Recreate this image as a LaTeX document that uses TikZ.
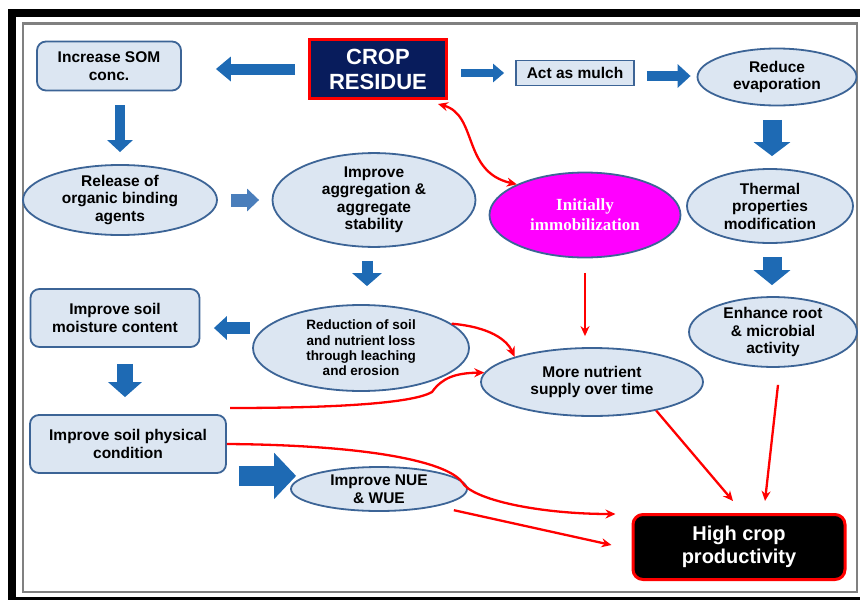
\documentclass[tikz,border=0pt]{standalone}
\usepackage{fontspec}
\setmainfont{Liberation Sans}
\newfontfamily\timesb{Liberation Serif}
\usetikzlibrary{shapes.geometric,arrows.meta}
\definecolor{boxfill}{RGB}{220,230,242}
\definecolor{boxline}{RGB}{60,100,150}
\definecolor{blockblue}{RGB}{30,106,180}
\definecolor{lightblock}{RGB}{74,126,187}
\definecolor{cropnavy}{RGB}{8,28,92}
\definecolor{immpink}{RGB}{255,0,255}
\begin{document}
\begin{tikzpicture}[x=1pt,y=-1pt,
  txt/.style={font=\fontsize{15.5}{17.5}\selectfont\bfseries, align=center},
  rbox/.style={txt, draw=boxline, fill=boxfill, line width=1.8pt, rounded corners=9pt, inner sep=0pt},
  oval/.style={txt, ellipse, draw=boxline, fill=boxfill, line width=1.8pt, inner sep=0pt},
  barrow/.style n args={4}{draw=#4, line width=#1, -{Triangle[width=#2,length=#3]}},
  rarrow/.style={red, line width=2.3pt, -{Stealth[length=10pt,width=9pt]}},
  rboth/.style={red, line width=2.3pt, {Stealth[length=10pt,width=9pt]}-{Stealth[length=10pt,width=9pt]}}]

\useasboundingbox (0,0) rectangle (860,600);
\draw [line width=8pt] (866,13) -- (12,13) -- (12,604);
\draw [line width=4pt] (12,599) -- (866,599);
\draw [gray, line width=2.2pt] (23,23.5) rectangle (857,592);

\node [rbox, minimum width=144pt, minimum height=49pt] (som) at (109,66) {Increase SOM\\conc.};
\node [draw=red, fill=cropnavy, line width=3pt, minimum width=137pt, minimum height=59pt, text=white, font=\fontsize{22}{25}\selectfont\bfseries, align=center, inner sep=0pt] (crop) at (378,69) {CROP\\RESIDUE};
\node [txt, draw=boxline, fill=boxfill, line width=1.8pt, minimum width=118pt, minimum height=25pt, inner sep=0pt] (mulch) at (575,73) {Act as mulch};
\node [oval, minimum width=159pt, minimum height=57pt] (evap) at (777,77) {Reduce\\evaporation};
\node [oval, minimum width=194pt, minimum height=67pt] (rel) at (120,200) {Release of\\organic binding\\agents};
\node [oval, minimum width=203pt, minimum height=90pt] (agg) at (374,200) {Improve\\aggregation \&\\aggregate\\stability};
\node [oval, fill=immpink, minimum width=191pt, minimum height=85pt, text=white, font=\timesb\bfseries\fontsize{17}{20}\selectfont] (imm) at (585,215) {Initially\\immobilization};
\node [oval, minimum width=166pt, minimum height=74pt] (therm) at (770,206) {Thermal\\properties\\modification};
\node [rbox, minimum width=169pt, minimum height=58pt] (moist) at (115,318) {Improve soil\\moisture content};
\node [oval, minimum width=216pt, minimum height=86pt, font=\fontsize{13.5}{15.3}\selectfont\bfseries] (red) at (361,348) {Reduction of soil\\and nutrient loss\\through leaching\\and erosion};
\node [oval, minimum width=168pt, minimum height=52pt] (root) at (773,332) {Enhance root\\\& microbial\\activity};
\node [oval, minimum width=222pt, minimum height=68pt] (more) at (592,382) {More nutrient\\supply over time};
\node [rbox, minimum width=196pt, minimum height=58pt] (phys) at (128,444) {Improve soil physical\\condition};
\node [oval, minimum width=176pt, minimum height=44pt] (nue) at (379,489) {Improve NUE\\\& WUE};
\node [draw=red, fill=black, line width=3pt, rounded corners=10pt, minimum width=212pt, minimum height=65pt, text=white, font=\fontsize{20}{22.5}\selectfont\bfseries, align=center, inner sep=0pt] (high) at (739,547) {High crop\\productivity};

\draw [barrow={11pt}{24pt}{15pt}{blockblue}, shorten <=13pt, shorten >=34pt] (crop.west) -- (crop.west -| som.east);
\draw [barrow={8pt}{18pt}{11pt}{blockblue}, shorten <=13pt, shorten >=11pt] (crop.east |- mulch.west) -- (mulch.west);
\draw [barrow={10pt}{23pt}{13pt}{blockblue}, shorten <=12pt, shorten >=6pt] ([yshift=-3pt]mulch.east) -- ([yshift=-3pt]mulch.east -| evap.west);
\draw [barrow={10pt}{25pt}{12pt}{blockblue}, shorten <=14pt, shorten >=12pt] (som.south -| rel.north) -- (rel.north);
\draw [barrow={13pt}{22pt}{12pt}{lightblock}, shorten <=13pt, shorten >=12.5pt] (rel.east) -- (agg.west);
\draw [barrow={11pt}{29pt}{13pt}{blockblue}, shorten <=13pt, shorten >=18pt] ([xshift=-7pt]agg.south) -- ([xshift=-7pt]agg.south |- red.north);
\draw [barrow={19pt}{36pt}{14pt}{blockblue}, shorten <=13.5pt, shorten >=12pt] ([xshift=-5pt]evap.south) -- ([xshift=-5pt]evap.south |- therm.north);
\draw [barrow={19pt}{36pt}{15pt}{blockblue}, shorten <=13pt, shorten >=11pt] ([xshift=2pt]therm.south) -- ([xshift=2pt]therm.south |- root.north);
\draw [barrow={12pt}{23pt}{13pt}{blockblue}, shorten <=2pt, shorten >=13.5pt] (red.west |- 0,328) -- ([yshift=-10pt]moist.east);
\draw [barrow={16pt}{33pt}{15pt}{blockblue}, shorten <=16pt, shorten >=17pt] ([xshift=10pt]moist.south) -- ([xshift=10pt]moist.south |- phys.north);
\draw [barrow={20pt}{45pt}{22pt}{blockblue}, shorten <=12pt, shorten >=-6pt] ([yshift=-2pt]phys.south east) -- ([yshift=-2pt]phys.south east -| nue.west);

\coordinate (lowstart) at (230,408);
\draw [rboth] ([shift={(-10,4)}]crop.south east) .. controls (478,115) and (462,172) .. (imm.north west);
\draw [rarrow, shorten <=14.5pt, shorten >=11pt] (imm.south) -- (imm.south |- more.north);
\draw [rarrow] (red.15) .. controls (490,327) and (507,340) .. (more.162);
\draw [rarrow] (lowstart) .. controls (350,408) and (415,402) .. (432,392) .. controls (442,378) and (455,373) .. (more.175);
\draw [rarrow] (phys.east) .. controls (360,445) and (445,460) .. (462,482) .. controls (472,500) and (540,514) .. ([shift={(-16,1)}]high.north west);
\draw [rarrow] ([shift={(12,5)}]nue.south east) -- ([shift={(-20,-2)}]high.west);
\draw [rarrow] (more.-24) -- ([shift={(-6,-12)}]high.north);
\draw [rarrow] ([shift={(5,17)}]root.south) -- ([shift={(26,-12)}]high.north);

\end{tikzpicture}
\end{document}
